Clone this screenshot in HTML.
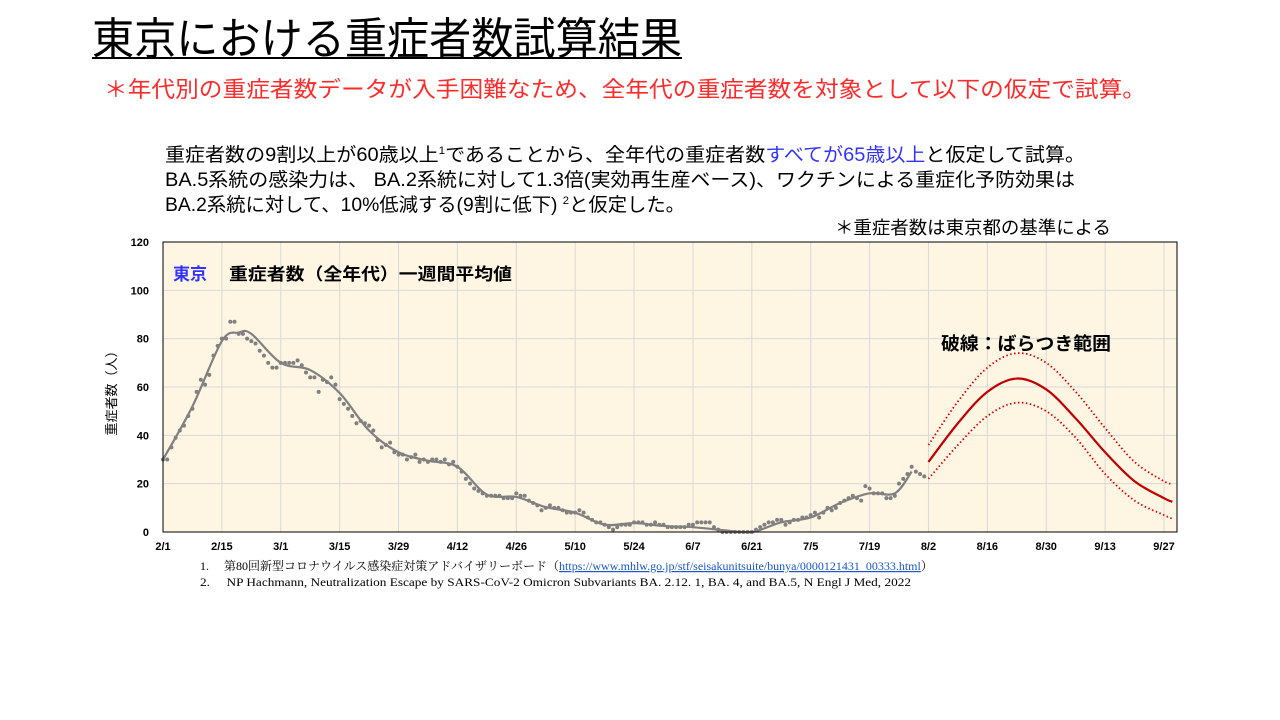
<!DOCTYPE html>
<html><head><meta charset="utf-8"><style>
body{margin:0;width:1280px;height:720px;background:#fff;overflow:hidden}
svg{display:block}
.jp{font-family:"Liberation Sans","Noto Sans CJK JP",sans-serif}
</style></head><body>
<svg id="s" width="1280" height="720" xmlns="http://www.w3.org/2000/svg" class="jp">
<text x="92" y="54" font-size="44" textLength="590" lengthAdjust="spacingAndGlyphs" fill="#000">東京における重症者数試算結果</text>
<rect x="92" y="57" width="590" height="2" fill="#000"/>
<text x="104" y="97" font-size="22" fill="#ff2b2b" textLength="1042" lengthAdjust="spacingAndGlyphs">＊年代別の重症者数データが入手困難なため、全年代の重症者数を対象として以下の仮定で試算。</text>
<text x="165" y="161" font-size="19" textLength="920" lengthAdjust="spacingAndGlyphs">重症者数の9割以上が60歳以上<tspan font-size="11" dy="-7">1</tspan><tspan dy="7">であることから、全年代の重症者数</tspan><tspan fill="#3333ff">すべてが65歳以上</tspan>と仮定して試算。</text>
<text x="165" y="186" font-size="19" textLength="910" lengthAdjust="spacingAndGlyphs">BA.5系統の感染力は、 BA.2系統に対して1.3倍(実効再生産ベース)、ワクチンによる重症化予防効果は</text>
<text x="165" y="211" font-size="19" textLength="520" lengthAdjust="spacingAndGlyphs">BA.2系統に対して、10%低減する(9割に低下) <tspan font-size="11" dy="-7">2</tspan><tspan dy="7">と仮定した。</tspan></text>
<text x="835" y="234" font-size="18" textLength="276" lengthAdjust="spacingAndGlyphs">＊重症者数は東京都の基準による</text>
<g id="chart"></g>
<text x="200" y="570" font-size="12" font-family="Liberation Serif,Noto Serif CJK SC,serif">1.　 第80回新型コロナウイルス感染症対策アドバイザリーボード（<tspan fill="#1a56c8" text-decoration="underline">https://www.mhlw.go.jp/stf/seisakunitsuite/bunya/0000121431_00333.html</tspan>）</text>
<text x="200" y="586" font-size="12" font-family="Liberation Serif,serif" textLength="711" lengthAdjust="spacingAndGlyphs">2.　 NP Hachmann, Neutralization Escape by SARS-CoV-2 Omicron Subvariants BA. 2.12. 1, BA. 4, and BA.5, N Engl J Med, 2022</text>
</svg>
<script>
const xTickLabels=["2/1","2/15","3/1","3/15","3/29","4/12","4/26","5/10","5/24","6/7","6/21","7/5","7/19","8/2","8/16","8/30","9/13","9/27"];
const yTicks=[0,20,40,60,80,100,120];
const dailyValues=[30,30,35,39,42,44,48,51,58,63,61,65,73,77,80,80,87,87,82,82,80,79,78,75,73,70,68,68,70,70,70,70,71,69,66,64,64,58,63,62,64,61,55,53,51,48,45,46,45,44,42,38,35,36,37,33,32,32,30,31,32,29,30,29,30,30,29,30,28,29,27,25,22,20,18,17,16,15,15,15,15,14,14,14,16,15,15,13,12,11,9,10,11,10,10,9,8,8,8,9,8,6,5,4,4,3,2,1,2,3,3,3,4,4,4,3,3,4,3,3,2,2,2,2,2,3,3,4,4,4,4,2,1,0,0,0,0,0,0,0,0,1,2,3,4,4,5,5,3,4,5,5,6,6,7,8,6,8,10,9,10,12,13,14,15,14,13,19,18,16,16,16,14,14,15,20,22,24,27,25,24,23];
const avgDays=[0,7,14,18,21,28,35,42,49,56,63,70,77,84,91,98,105,112,119,126,133,140,147,154,161,168,174,178];
const avgValues=[30,52,79,82.5,82,70,67,57.5,42,33,29.5,27,15.5,14.5,10.3,8,3,3.7,2.5,2,0.8,0,4,6,12,16,16,25];
const projDays=[182,189,196,203,210,217,224,231,238,240];
const projCenter=[29,45,58,63.5,59,47,33,21,14,12.5];
const projUpper=[36,54,68,74,70,58,43,29,21,20];
const projLower=[22,36,48,53.5,50,39,24,13,7,5.5];

const NS="http://www.w3.org/2000/svg";
const g=document.getElementById('chart');
const L=163,R=1177,T=242,B=532,D0X=163,PXD=(1164-163)/238;
const xs=d=>D0X+d*PXD, ys=v=>B-(v/120)*(B-T);
function mk(t,a){const e=document.createElementNS(NS,t);for(const k in a)e.setAttribute(k,a[k]);g.appendChild(e);return e;}
let e=mk('rect',{x:L,y:T,width:R-L,height:B-T,fill:'#fef5e2'});


yTicks.forEach(v=>{
  let l=mk('line',{x1:L,x2:R,y1:ys(v),y2:ys(v),stroke:'#d9d9d9','stroke-width':1});
  
  
  let t=mk('text',{x:149,y:ys(v)+4,'font-size':11,'font-weight':'bold','text-anchor':'end'});t.textContent=v;
  
  
});
xTickLabels.forEach((s,i)=>{
  const x=xs(i*14);
  let l=mk('line',{x1:x,x2:x,y1:T,y2:B,stroke:'#d9d9d9','stroke-width':1});
  
  
  let t=mk('text',{x:x,y:550,'font-size':11,'font-weight':'bold','text-anchor':'middle'});t.textContent=s;
  
  
});
function smooth(days,vals){
  const p=days.map((d,i)=>[xs(d),ys(vals[i])]);
  let s=`M${p[0][0]},${p[0][1]}`;
  for(let i=0;i<p.length-1;i++){
    const p0=p[Math.max(0,i-1)],p1=p[i],p2=p[i+1],p3=p[Math.min(p.length-1,i+2)];
    const c1=[p1[0]+(p2[0]-p0[0])/6,p1[1]+(p2[1]-p0[1])/6],c2=[p2[0]-(p3[0]-p1[0])/6,p2[1]-(p3[1]-p1[1])/6];
    s+=` C${c1[0]},${c1[1]} ${c2[0]},${c2[1]} ${p2[0]},${p2[1]}`;
  }
  return s;
}
dailyValues.forEach((v,i)=>{
  let c=mk('circle',{cx:xs(i),cy:ys(v),r:2,fill:'#808080'});
  
  
});
e=mk('path',{d:smooth(avgDays,avgValues),fill:'none',stroke:'#808080','stroke-width':2.2});


e=mk('path',{d:smooth(projDays,projUpper),fill:'none',stroke:'#e00000','stroke-width':1.8,'stroke-dasharray':'1.5 2.5'});


e=mk('path',{d:smooth(projDays,projLower),fill:'none',stroke:'#e00000','stroke-width':1.8,'stroke-dasharray':'1.5 2.5'});


e=mk('path',{d:smooth(projDays,projCenter),fill:'none',stroke:'#c00000','stroke-width':2.2});


e=mk('rect',{x:L,y:T,width:R-L,height:B-T,fill:'none',stroke:'#000','stroke-width':1});


e=mk('text',{x:173,y:280,'font-size':17,'font-weight':'bold',fill:'#3333ff'});e.textContent='東京';


e=mk('text',{x:229,y:280,'font-size':17,'font-weight':'bold',textLength:283,lengthAdjust:'spacingAndGlyphs'});e.textContent='重症者数（全年代）一週間平均値';


e=mk('text',{x:941,y:350,'font-size':18,'font-weight':'bold',textLength:170,lengthAdjust:'spacingAndGlyphs'});e.textContent='破線：ばらつき範囲';


e=mk('text',{x:0,y:0,'font-size':13,'text-anchor':'middle',transform:'translate(116,390) rotate(-90)'});e.textContent='重症者数（人）';


</script>
</body></html>
